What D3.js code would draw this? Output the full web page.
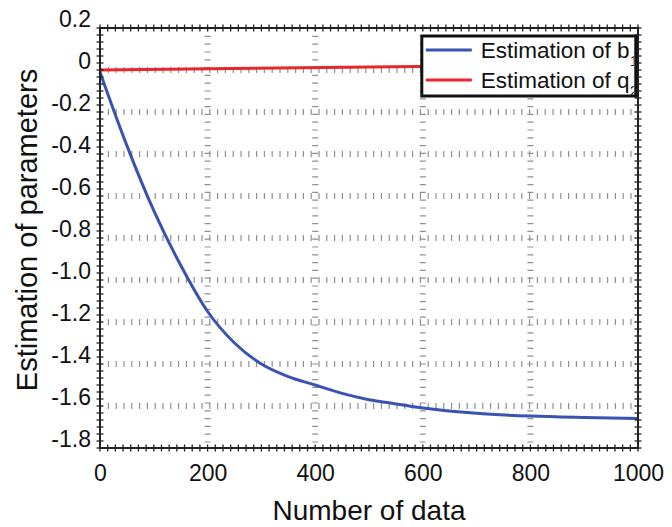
<!DOCTYPE html>
<html>
<head>
<meta charset="utf-8">
<script src="https://cdn.jsdelivr.net/npm/d3@7"></script>
<style>
body{margin:0;background:#fff;}
text{font-family:"Liberation Sans",Arial,sans-serif;fill:#111;}
</style>
</head>
<body>
<div id="chart"></div>
<script>
// estimates
var nData = [0,50,100,150,200,250,300,350,400,450,500,550,600,700,800,900,1000];
var estB1 = [-0.01,-0.36,-0.67,-0.93,-1.15,-1.3,-1.4,-1.46,-1.5,-1.54,-1.57,-1.59,-1.61,-1.635,-1.648,-1.655,-1.66];
var redX = [0,1000];
var estQ2 = [0,0.028];
var xTicks = [0,200,400,600,800,1000];
var yTicks = [0.2,0,-0.2,-0.4,-0.6,-0.8,-1.0,-1.2,-1.4,-1.6,-1.8];
var yTickLabels = ["0.2","0","-0.2","-0.4","-0.6","-0.8","-1.0","-1.2","-1.4","-1.6","-1.8"];

var margin = {top:28,right:34,bottom:79,left:100},
W = 672, H = 527,
w = W - margin.left - margin.right,
h = H - margin.top - margin.bottom;

var svg = d3.select("#chart").append("svg")
  .attr("width",W).attr("height",H)
  .append("g")
  .attr("transform",`translate(${margin.left},${margin.top})`);

var x = d3.scaleLinear().domain([0,1000]).range([0,w]);
var y = d3.scaleLinear().domain([-1.8,0.2]).range([h,0]);

// dotted grid
svg.selectAll(".hgrid").data(yTicks.slice(1,-1)).enter().append("line")
  .attr("x1",0).attr("x2",w)
  .attr("y1",d=>y(d)).attr("y2",d=>y(d))
  .attr("stroke","#909090").attr("stroke-width",6)
  .attr("stroke-dasharray","1.2,6.6");
svg.selectAll(".vgrid").data(xTicks.slice(1,-1)).enter().append("line")
  .attr("y1",0).attr("y2",h)
  .attr("x1",d=>x(d)).attr("x2",d=>x(d))
  .attr("stroke","#909090").attr("stroke-width",6)
  .attr("stroke-dasharray","1.2,6.6");

// curves
var line = d3.line().x(d=>x(d[0])).y(d=>y(d[1])).curve(d3.curveMonotoneX);
svg.append("path").datum(d3.zip(nData,estB1))
  .attr("d",line).attr("fill","none")
  .attr("stroke","#3953b0").attr("stroke-width",3);
svg.append("path").datum(d3.zip(redX,estQ2))
  .attr("d",line).attr("fill","none")
  .attr("stroke","#e8262b").attr("stroke-width",3);

// frame with cross ticks on all sides
var xMinor = d3.range(0,1000.01,200/14);
var yMinor = d3.range(-1.8,0.2001,0.2/6);
var tk = svg.append("g").attr("stroke","#222").attr("stroke-width",1.3);
[0,h].forEach(function(yy){
  tk.selectAll(null).data(xMinor).enter().append("line")
    .attr("x1",d=>x(d)).attr("x2",d=>x(d))
    .attr("y1",yy-3.5).attr("y2",yy+3.5);
});
[0,w].forEach(function(xx){
  tk.selectAll(null).data(yMinor).enter().append("line")
    .attr("y1",d=>y(d)).attr("y2",d=>y(d))
    .attr("x1",xx-3.5).attr("x2",xx+3.5);
});
svg.append("rect").attr("width",w).attr("height",h)
  .attr("fill","none").attr("stroke","#222").attr("stroke-width",2);

// axes labels
var xAxis = d3.axisBottom(x).tickValues(xTicks).tickSize(0).tickPadding(17)
  .tickFormat(d3.format("d"));
var gx = svg.append("g").attr("transform",`translate(0,${h})`).call(xAxis);
gx.select(".domain").remove();
gx.selectAll("text").style("font-size","23px").attr("font-family",null).attr("fill","#111");

var yAxis = d3.axisLeft(y).tickValues(yTicks).tickSize(0).tickPadding(9)
  .tickFormat((d,i)=>yTickLabels[i]);
var gy = svg.append("g").call(yAxis);
gy.select(".domain").remove();
gy.selectAll("text").style("font-size","23px").attr("font-family",null)
  .attr("fill","#111").attr("dy","-0.05em");

svg.append("text").attr("x",w/2).attr("y",h+72)
  .attr("text-anchor","middle").style("font-size","28px").text("Number of data");
svg.append("text").attr("transform",`translate(-63,${h/2-8}) rotate(-90)`)
  .attr("text-anchor","middle").style("font-size","29px").text("Estimation of parameters");

// legend
var lg = svg.append("g").attr("transform",`translate(${x(600)-1},${y(0.2)+8})`);
var lw = 214, lh = 60;
lg.append("clipPath").attr("id","lgclip").append("rect").attr("width",lw-2).attr("height",lh);
lg.append("rect").attr("width",lw).attr("height",lh)
  .attr("fill","#fff").attr("stroke","#111").attr("stroke-width",3);
var items = [{c:"#3953b0",t:"Estimation of b",s:"1"},{c:"#e8262b",t:"Estimation of q",s:"2"}];
var it = lg.append("g").attr("clip-path","url(#lgclip)")
  .selectAll(".it").data(items).enter().append("g")
  .attr("transform",(d,i)=>`translate(0,${14+i*30})`);
it.append("line").attr("x1",4).attr("x2",50).attr("stroke",d=>d.c).attr("stroke-width",3);
var tx = it.append("text").attr("x",59).attr("y",8).style("font-size","22.5px");
tx.append("tspan").text(d=>d.t);
tx.append("tspan").attr("dy",8).style("font-size","15px").text(d=>d.s);
</script>
</body>
</html>
